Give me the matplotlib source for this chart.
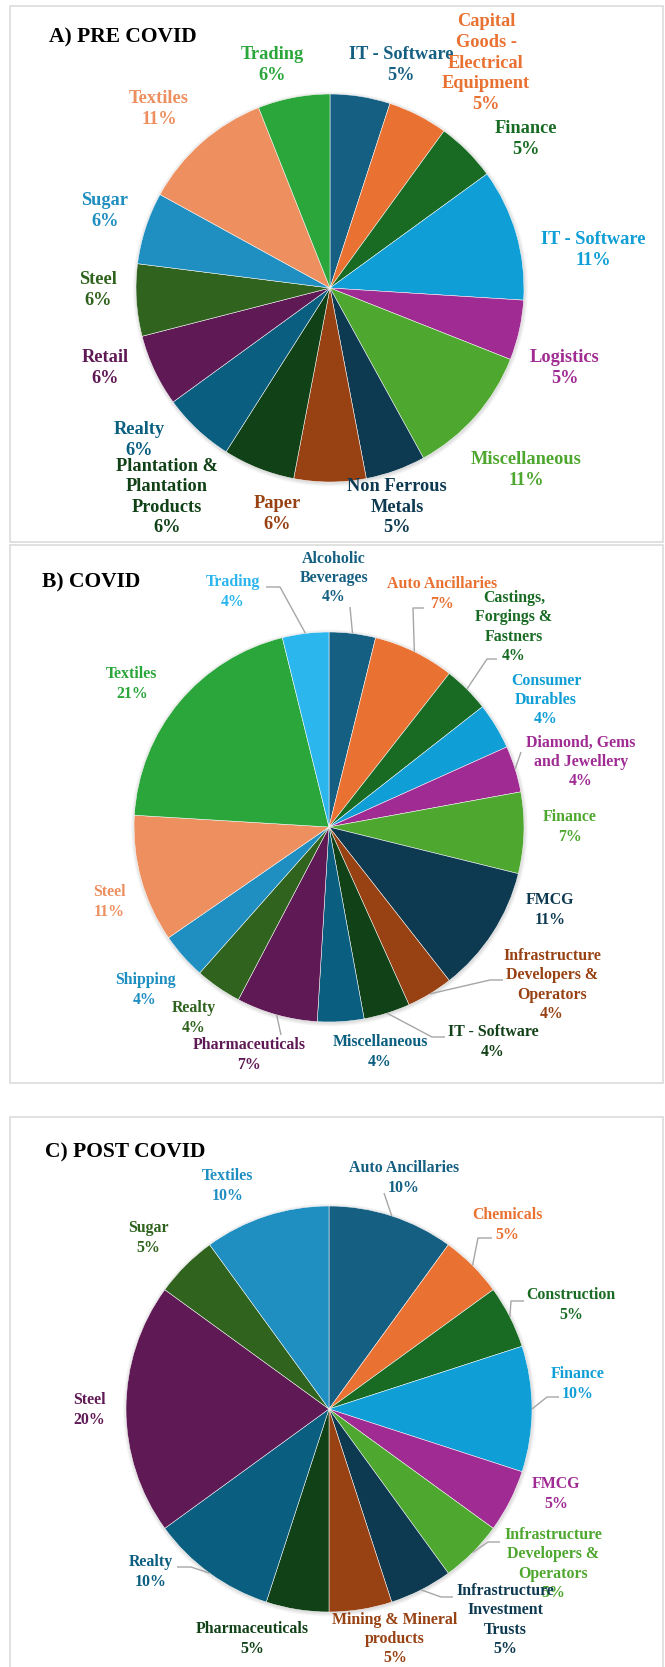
import numpy as np
import matplotlib.pyplot as plt
from matplotlib.patches import Circle, Rectangle

# sector shares (%) for each period, in slice order starting at 12 o'clock
pre_sectors = ['IT - Software', 'Capital\nGoods -\nElectrical\nEquipment', 'Finance',
               'IT - Software', 'Logistics', 'Miscellaneous', 'Non Ferrous\nMetals',
               'Paper', 'Plantation &\nPlantation\nProducts', 'Realty', 'Retail',
               'Steel', 'Sugar', 'Textiles', 'Trading']
pre_share = [5, 5, 5, 11, 5, 11, 5, 6, 6, 6, 6, 6, 6, 11, 6]

covid_sectors = ['Alcoholic\nBeverages', 'Auto Ancillaries', 'Castings,\nForgings &\nFastners',
                 'Consumer\nDurables', 'Diamond, Gems\nand Jewellery', 'Finance', 'FMCG',
                 'Infrastructure\nDevelopers &\nOperators', 'IT - Software', 'Miscellaneous',
                 'Pharmaceuticals', 'Realty', 'Shipping', 'Steel', 'Textiles', 'Trading']
covid_share = [4, 7, 4, 4, 4, 7, 11, 4, 4, 4, 7, 4, 4, 11, 21, 4]

post_sectors = ['Auto Ancillaries', 'Chemicals', 'Construction', 'Finance', 'FMCG',
                'Infrastructure\nDevelopers &\nOperators', 'Infrastructure\nInvestment\nTrusts',
                'Mining & Mineral\nproducts', 'Pharmaceuticals', 'Realty', 'Steel', 'Sugar',
                'Textiles']
post_share = [10, 5, 5, 10, 5, 5, 5, 5, 5, 10, 20, 5, 10]

palette = ['#156082', '#E97132', '#196B24', '#0F9ED5', '#A02B93', '#4EA72E',
           '#0E3A51', '#984213', '#114117', '#0A5E80', '#5F1A56', '#2F631E',
           '#1F8EC1', '#ED8F5F', '#2AA63B', '#2CB6EE']

W, H = 665, 1667
SERIF = 'Liberation Serif'


def Y(y):
    # layout is measured top-down in pixels
    return H - y


fig = plt.figure(figsize=(W / 100, H / 100), dpi=100)
ax = fig.add_axes([0, 0, 1, 1])

# panel frames
for top, bottom in [(6, 542), (545, 1083), (1117, 1680)]:
    ax.add_patch(Rectangle((10, Y(bottom)), 653, bottom - top, fill=False,
                           edgecolor='#d9d9d9', lw=1.1, zorder=0))


def draw_pie(values, names, center, radius, label_xy, fs, leaders=None):
    cx, cy = center[0], Y(center[1])
    # soft halo round the pie
    for k in range(6):
        ax.add_patch(Circle((cx + 0.5, cy - 1), radius + 0.7 * k, color='k',
                            alpha=0.025, lw=0, zorder=1))
    wedges, _ = ax.pie(values, colors=palette[:len(values)], startangle=90,
                       counterclock=False, center=(cx, cy), radius=radius,
                       wedgeprops=dict(edgecolor='white', linewidth=0.35, zorder=2))
    for i, (name, val) in enumerate(zip(names, values)):
        x, y = label_xy[i]
        ax.text(x, Y(y), f'{name}\n{val}%', color=palette[i], fontsize=fs,
                fontweight='bold', family=SERIF, ha='center', va='center',
                multialignment='center', linespacing=1.28, zorder=4)
    for i, start, elbow in (leaders or []):
        w = wedges[i]
        mid = np.deg2rad((w.theta1 + w.theta2) / 2)
        ex, ey = cx + radius * np.cos(mid), cy + radius * np.sin(mid)
        ax.plot([start[0], elbow[0], ex], [Y(start[1]), Y(elbow[1]), ey],
                color='#a6a6a6', lw=1.0, zorder=3, solid_capstyle='butt')


pre_xy = [(401, 65), (486, 63), (526, 139), (593, 250), (565, 368), (526, 470),
          (397, 507), (277, 514), (167, 497), (139, 440), (105, 368), (98, 290),
          (105, 211), (159, 109), (272, 65)]
draw_pie(pre_share, pre_sectors, (330, 288), 194, pre_xy, 13.2)

covid_xy = [(334, 578), (442, 594), (514, 627), (546, 700), (581, 762), (570, 827),
            (550, 910), (552, 985), (493, 1042), (380, 1052), (249, 1055), (194, 1018),
            (145, 990), (109, 902), (132, 684), (233, 592)]
covid_lines = [(0, (350, 607), (350, 607)), (15, (266, 587), (280, 587)),
               (1, (424, 608), (413, 608)), (2, (497, 659), (487, 659)),
               (4, (521, 752), (521, 752)), (7, (503, 980), (490, 980)),
               (8, (445, 1037), (432, 1037)), (10, (281, 1035), (281, 1035))]
draw_pie(covid_share, covid_sectors, (329, 827), 195, covid_xy, 11.4, covid_lines)

post_xy = [(404, 1178), (507, 1225), (571, 1305), (578, 1384), (556, 1494),
           (553, 1564), (505, 1620), (395, 1639), (252, 1639), (151, 1572),
           (89, 1410), (148, 1238), (228, 1186)]
post_lines = [(0, (384, 1193), (384, 1193)), (1, (492, 1238), (478, 1238)),
              (2, (524, 1301), (511, 1301)), (3, (559, 1397), (547, 1397)),
              (5, (500, 1542), (488, 1542)), (6, (453, 1597), (441, 1597)),
              (9, (177, 1567), (191, 1567))]
draw_pie(post_share, post_sectors, (329, 1409), 203, post_xy, 11.4, post_lines)

# panel titles
for txt, x, y in [('A) PRE COVID', 49, 37), ('B) COVID', 42, 582),
                  ('C) POST COVID', 45, 1152)]:
    ax.text(x, Y(y), txt, fontsize=15.5, fontweight='bold', family=SERIF,
            ha='left', va='center', color='black')

ax.set_xlim(0, W)
ax.set_ylim(0, H)
ax.set_aspect('auto')
ax.axis('off')
fig.savefig('out.png', dpi=100)
